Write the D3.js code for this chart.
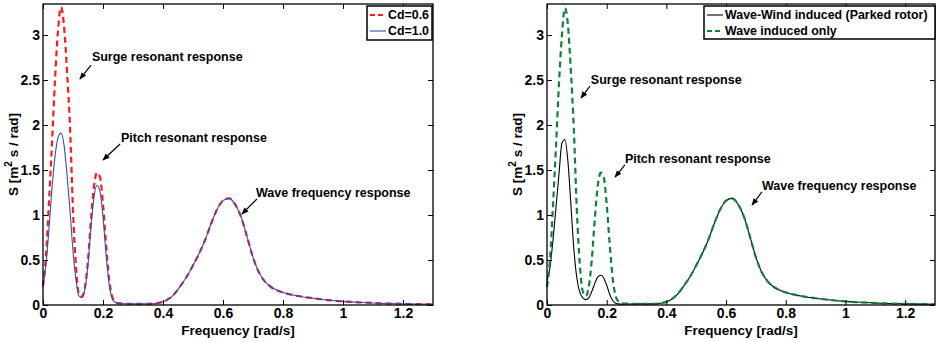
<!DOCTYPE html>
<html>
<head>
<meta charset="utf-8">
<script src="https://cdn.jsdelivr.net/npm/d3@7"></script>
<style>
  body { margin: 0; background: #fff; }
  svg { display: block; font-family: "Liberation Sans", Arial, sans-serif; font-weight: bold; }
</style>
</head>
<body>
<div id="chart"></div>
<script>
const width = 936;
const height = 342;

// low frequency part (resonant responses)
const lowFreq = [0, 0.01, 0.02, 0.03, 0.04, 0.05, 0.06, 0.07, 0.08, 0.09, 0.10, 0.11, 0.12,
                 0.13, 0.14, 0.15, 0.16, 0.17, 0.18, 0.19, 0.20, 0.21, 0.22, 0.23, 0.24, 0.25];
const cd06Low = [0.21, 0.55, 1.15, 1.8, 2.5, 3.05, 3.31, 3.1, 2.6, 1.98, 1.05, 0.42, 0.12,
                 0.095, 0.2, 0.5, 0.95, 1.32, 1.47, 1.42, 1.12, 0.68, 0.3, 0.1, 0.035, 0.02];
const cd10Low = [0.2, 0.45, 0.85, 1.3, 1.65, 1.86, 1.91, 1.78, 1.45, 1.05, 0.6, 0.28, 0.1,
                 0.08, 0.18, 0.45, 0.87, 1.2, 1.33, 1.26, 0.98, 0.57, 0.24, 0.08, 0.03, 0.02];
const windLow = [0.27, 0.42, 0.72, 1.08, 1.45, 1.8, 1.84, 1.6, 1.12, 0.62, 0.3, 0.14, 0.08,
                 0.06, 0.08, 0.15, 0.24, 0.31, 0.33, 0.3, 0.22, 0.12, 0.05, 0.02, 0.012, 0.01];
const waveLow = [0.2, 0.5, 1.1, 1.75, 2.45, 3.0, 3.3, 3.12, 2.6, 1.95, 1.05, 0.45, 0.15,
                 0.1, 0.2, 0.5, 0.95, 1.32, 1.47, 1.42, 1.12, 0.68, 0.3, 0.1, 0.035, 0.02];

// wave frequency part (shared by all curves)
const highFreq = [0.3, 0.35, 0.38, 0.4, 0.42, 0.44, 0.46, 0.48, 0.5, 0.52, 0.54, 0.56, 0.58, 0.6,
                  0.62, 0.64, 0.66, 0.68, 0.7, 0.72, 0.74, 0.76, 0.78, 0.8, 0.85, 0.9, 0.95,
                  1.0, 1.05, 1.1, 1.2, 1.3];
const highS = [0.012, 0.013, 0.02, 0.035, 0.07, 0.13, 0.22, 0.32, 0.44, 0.57, 0.72, 0.9, 1.06, 1.16,
               1.185, 1.12, 0.98, 0.76, 0.53, 0.36, 0.26, 0.2, 0.165, 0.14, 0.1, 0.075, 0.055,
               0.04, 0.03, 0.022, 0.013, 0.008];

const xTicks = [0, 0.2, 0.4, 0.6, 0.8, 1, 1.2];
const yTicks = [0, 0.5, 1, 1.5, 2, 2.5, 3];

function series(low) {
  const pts = lowFreq.map((f, i) => [f, low[i]]);
  return pts.concat(highFreq.map((f, i) => [f, highS[i]]));
}

const panels = [
  {
    x0: 43, x1: 433,
    curves: [
      {name: "Cd=0.6", data: series(cd06Low), color: "#ff1a1a", w: 2.2, dash: "6,4"},
      {name: "Cd=1.0", data: series(cd10Low), color: "#2f4fb8", w: 1.1, dash: null}
    ],
    legend: {x: 367, y: 6, w: 65, h: 34},
    notes: [
      {text: "Surge resonant response", f: 0.163, s: 2.756, a: [0.16, 2.667, 0.123, 2.511]},
      {text: "Pitch resonant response", f: 0.26, s: 1.856, a: [0.257, 1.789, 0.2, 1.611]},
      {text: "Wave frequency response", f: 0.71, s: 1.244, a: [0.713, 1.178, 0.663, 1.011]}
    ]
  },
  {
    x0: 547, x1: 935,
    curves: [
      {name: "Wave-Wind induced (Parked rotor)", data: series(windLow), color: "#000", w: 1.1, dash: null},
      {name: "Wave induced only", data: series(waveLow), color: "#13803a", w: 2.2, dash: "6,4"}
    ],
    legend: {x: 704, y: 6, w: 231, h: 33},
    notes: [
      {text: "Surge resonant response", f: 0.147, s: 2.5, a: [0.144, 2.433, 0.114, 2.3]},
      {text: "Pitch resonant response", f: 0.261, s: 1.622, a: [0.261, 1.556, 0.228, 1.422]},
      {text: "Wave frequency response", f: 0.72, s: 1.322, a: [0.72, 1.256, 0.687, 1.111]}
    ]
  }
];

const plotTop = 4, plotBottom = 305;

const svg = d3.select("#chart").append("svg")
    .attr("width", width)
    .attr("height", height);

svg.append("defs").append("marker")
    .attr("id", "arrow")
    .attr("viewBox", "0 0 10 10")
    .attr("refX", 9).attr("refY", 5)
    .attr("markerWidth", 6).attr("markerHeight", 6)
    .attr("orient", "auto")
  .append("path")
    .attr("d", "M0,1 L10,5 L0,9 z")
    .attr("fill", "#000");

panels.forEach(p => {
  const x = d3.scaleLinear().domain([0, 1.3]).range([p.x0, p.x1]);
  const y = d3.scaleLinear().domain([0, 3.345]).range([plotBottom, plotTop]);
  const g = svg.append("g");

  const line = d3.line()
      .x(d => x(d[0]))
      .y(d => y(d[1]))
      .curve(d3.curveMonotoneX);

  p.curves.forEach(c => {
    g.append("path")
        .attr("d", line(c.data))
        .attr("fill", "none")
        .attr("stroke", c.color)
        .attr("stroke-width", c.w)
        .attr("stroke-dasharray", c.dash);
  });

  const fmt = d3.format("~g");
  const axes = [
    {ax: d3.axisBottom(x).tickValues(xTicks).tickFormat(fmt), t: `translate(0,${plotBottom})`},
    {ax: d3.axisTop(x).tickValues(xTicks).tickFormat(""), t: `translate(0,${plotTop})`},
    {ax: d3.axisLeft(y).tickValues(yTicks).tickFormat(fmt), t: `translate(${p.x0},0)`},
    {ax: d3.axisRight(y).tickValues(yTicks).tickFormat(""), t: `translate(${p.x1},0)`}
  ];
  axes.forEach(a => {
    const ag = g.append("g")
        .attr("transform", a.t)
        .call(a.ax.tickSizeInner(-5).tickSizeOuter(0).tickPadding(3));
    ag.select(".domain").remove();
    ag.selectAll("line").attr("stroke", "#000");
    ag.selectAll("text")
        .attr("font-size", 14)
        .attr("font-weight", "bold")
        .attr("font-family", "Liberation Sans, Arial, sans-serif")
        .attr("fill", "#000");
  });

  g.append("rect")
      .attr("x", p.x0).attr("y", plotTop)
      .attr("width", p.x1 - p.x0).attr("height", plotBottom - plotTop)
      .attr("fill", "none")
      .attr("stroke", "#000")
      .attr("stroke-width", 1.3);

  // axis labels
  g.append("text")
      .attr("x", (p.x0 + p.x1) / 2)
      .attr("y", 335)
      .attr("text-anchor", "middle")
      .attr("font-size", 13.5)
      .text("Frequency [rad/s]");

  const yl = g.append("text")
      .attr("transform", `translate(${p.x0 - 25},${(plotTop + plotBottom) / 2}) rotate(-90)`)
      .attr("text-anchor", "middle")
      .attr("font-size", 13.5);
  yl.append("tspan").text("S [m");
  yl.append("tspan").attr("font-size", 10).attr("dy", -6).text("2");
  yl.append("tspan").attr("dy", 6).text(" s / rad]");

  // annotations
  p.notes.forEach(n => {
    g.append("text")
        .attr("x", x(n.f)).attr("y", y(n.s))
        .attr("dy", "0.35em")
        .attr("font-size", 12.5)
        .text(n.text);
    g.append("line")
        .attr("x1", x(n.a[0])).attr("y1", y(n.a[1]))
        .attr("x2", x(n.a[2])).attr("y2", y(n.a[3]))
        .attr("stroke", "#000")
        .attr("stroke-width", 1.2)
        .attr("marker-end", "url(#arrow)");
  });

  // legend
  const L = p.legend;
  g.append("rect")
      .attr("x", L.x).attr("y", L.y)
      .attr("width", L.w).attr("height", L.h)
      .attr("fill", "#fff")
      .attr("stroke", "#000")
      .attr("stroke-width", 1.5);
  p.curves.forEach((c, i) => {
    const ly = L.y + 9 + i * 16;
    g.append("line")
        .attr("x1", L.x + 3).attr("x2", L.x + 19)
        .attr("y1", ly).attr("y2", ly)
        .attr("stroke", c.color)
        .attr("stroke-width", c.w)
        .attr("stroke-dasharray", c.dash ? "5,3" : null);
    g.append("text")
        .attr("x", L.x + 21).attr("y", ly)
        .attr("dy", "0.35em")
        .attr("font-size", 12.4)
        .text(c.name);
  });
});
</script>
</body>
</html>
